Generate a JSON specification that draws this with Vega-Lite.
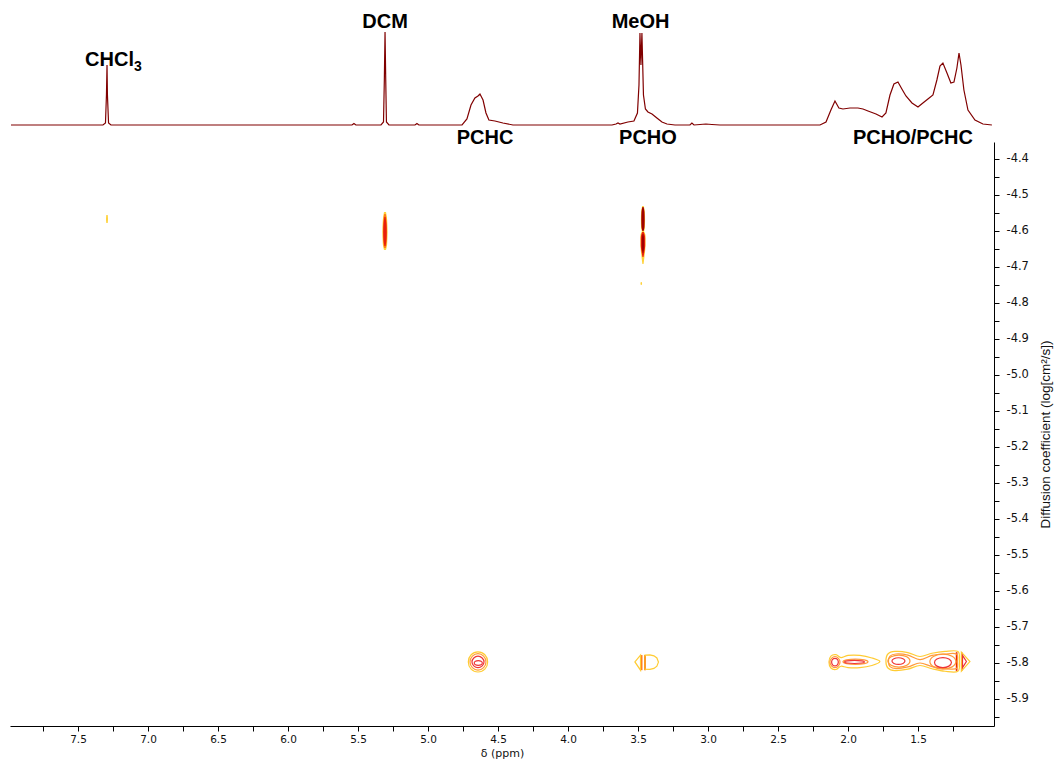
{
"$schema": "https://vega.github.io/schema/vega-lite/v6.json",
"background": "white",
"padding": {"left": 8, "top": 0, "right": 5, "bottom": 2},
"spacing": 12,
"bounds": "flush",
"config": {"view": {"stroke": null}, "axis": {"grid": false}},
"datasets": {
"spec": [
{"ppm":7.979,"I":0},{"ppm":7.322,"I":0},{"ppm":7.304,"I":2},{"ppm":7.297,"I":30},{"ppm":7.293,"I":60},{"ppm":7.290,"I":30},{"ppm":7.282,"I":2},{"ppm":7.265,"I":0},
{"ppm":5.543,"I":0},{"ppm":5.529,"I":1.5},{"ppm":5.515,"I":0},
{"ppm":5.336,"I":0},{"ppm":5.318,"I":3},{"ppm":5.312,"I":45},{"ppm":5.307,"I":93},{"ppm":5.302,"I":45},{"ppm":5.297,"I":3},{"ppm":5.279,"I":0},
{"ppm":5.093,"I":0},{"ppm":5.079,"I":1.5},{"ppm":5.065,"I":0},
{"ppm":4.757,"I":0},{"ppm":4.722,"I":6},{"ppm":4.693,"I":20},{"ppm":4.665,"I":27},{"ppm":4.643,"I":29},{"ppm":4.629,"I":31},{"ppm":4.607,"I":25},{"ppm":4.586,"I":12},{"ppm":4.565,"I":5},{"ppm":4.522,"I":4},{"ppm":4.465,"I":2},{"ppm":4.393,"I":0},
{"ppm":3.686,"I":0},{"ppm":3.657,"I":1},{"ppm":3.643,"I":2},{"ppm":3.629,"I":1},{"ppm":3.572,"I":3},{"ppm":3.529,"I":4},{"ppm":3.504,"I":12},{"ppm":3.493,"I":40},{"ppm":3.486,"I":92},{"ppm":3.479,"I":60},{"ppm":3.472,"I":92},{"ppm":3.461,"I":30},{"ppm":3.447,"I":16},{"ppm":3.429,"I":13},{"ppm":3.400,"I":11},{"ppm":3.365,"I":7},{"ppm":3.329,"I":3},{"ppm":3.293,"I":1},{"ppm":3.236,"I":0},
{"ppm":3.129,"I":0},{"ppm":3.115,"I":2},{"ppm":3.100,"I":0},{"ppm":3.057,"I":0.5},{"ppm":3.015,"I":1},{"ppm":2.972,"I":0.5},{"ppm":2.915,"I":0},
{"ppm":2.200,"I":0},{"ppm":2.157,"I":3},{"ppm":2.122,"I":15},{"ppm":2.093,"I":24},{"ppm":2.065,"I":17},{"ppm":2.036,"I":16},{"ppm":1.986,"I":17},{"ppm":1.929,"I":17},{"ppm":1.893,"I":16},{"ppm":1.857,"I":14},{"ppm":1.800,"I":11},{"ppm":1.757,"I":8},{"ppm":1.729,"I":12},{"ppm":1.700,"I":30},{"ppm":1.672,"I":41},{"ppm":1.643,"I":43},{"ppm":1.615,"I":36},{"ppm":1.586,"I":29},{"ppm":1.543,"I":22},{"ppm":1.500,"I":18},{"ppm":1.465,"I":22},{"ppm":1.429,"I":26},{"ppm":1.393,"I":30},{"ppm":1.365,"I":45},{"ppm":1.343,"I":59},{"ppm":1.322,"I":62},{"ppm":1.293,"I":52},{"ppm":1.265,"I":42},{"ppm":1.243,"I":43},{"ppm":1.222,"I":57},{"ppm":1.207,"I":72},{"ppm":1.193,"I":60},{"ppm":1.172,"I":35},{"ppm":1.143,"I":15},{"ppm":1.093,"I":5},{"ppm":1.036,"I":1},{"ppm":0.972,"I":0}
],
"lbl": [
{"t":"CHCl","k":"main","ppm":7.275,"I":65},{"t":"3","k":"sub","ppm":7.072,"I":58},{"t":"DCM","k":"main","ppm":5.307,"I":103},{"t":"MeOH","k":"main","ppm":3.482,"I":103},{"t":"PCHC","k":"main","ppm":4.593,"I":-13},{"t":"PCHO","k":"main","ppm":3.429,"I":-13},{"t":"PCHO/PCHC","k":"main","ppm":1.536,"I":-13}
],
"streak": [
{"s":"DCM","lv":"y","D":-4.5475,"ppm":5.300,"ppm2":5.3145},{"s":"DCM","lv":"y","D":-4.5697,"ppm":5.2917,"ppm2":5.3231},{"s":"DCM","lv":"y","D":-4.603,"ppm":5.2888,"ppm2":5.326},{"s":"DCM","lv":"y","D":-4.6364,"ppm":5.2917,"ppm2":5.3231},{"s":"DCM","lv":"y","D":-4.653,"ppm":5.300,"ppm2":5.3145},
{"s":"DCM","lv":"o","D":-4.553,"ppm":5.3017,"ppm2":5.3131},{"s":"DCM","lv":"o","D":-4.5753,"ppm":5.2945,"ppm2":5.3203},{"s":"DCM","lv":"o","D":-4.603,"ppm":5.2924,"ppm2":5.3224},{"s":"DCM","lv":"o","D":-4.6308,"ppm":5.2945,"ppm2":5.3203},{"s":"DCM","lv":"o","D":-4.6475,"ppm":5.3017,"ppm2":5.3131},
{"s":"DCM","lv":"r","D":-4.5614,"ppm":5.3031,"ppm2":5.3117},{"s":"DCM","lv":"r","D":-4.5808,"ppm":5.2974,"ppm2":5.3174},{"s":"DCM","lv":"r","D":-4.603,"ppm":5.2953,"ppm2":5.3195},{"s":"DCM","lv":"r","D":-4.6253,"ppm":5.2974,"ppm2":5.3174},{"s":"DCM","lv":"r","D":-4.6419,"ppm":5.3031,"ppm2":5.3117},
{"s":"MU","lv":"y","D":-4.5308,"ppm":3.4588,"ppm2":3.4702},{"s":"MU","lv":"y","D":-4.5475,"ppm":3.4509,"ppm2":3.4781},{"s":"MU","lv":"y","D":-4.5697,"ppm":3.4495,"ppm2":3.4795},{"s":"MU","lv":"y","D":-4.5919,"ppm":3.4509,"ppm2":3.4781},{"s":"MU","lv":"y","D":-4.603,"ppm":3.4588,"ppm2":3.4702},
{"s":"MU","lv":"d","D":-4.5336,"ppm":3.4602,"ppm2":3.4688},{"s":"MU","lv":"d","D":-4.5475,"ppm":3.4538,"ppm2":3.4752},{"s":"MU","lv":"d","D":-4.5697,"ppm":3.4524,"ppm2":3.4766},{"s":"MU","lv":"d","D":-4.5892,"ppm":3.4538,"ppm2":3.4752},{"s":"MU","lv":"d","D":-4.6003,"ppm":3.4602,"ppm2":3.4688},
{"s":"ML","lv":"y","D":-4.6003,"ppm":3.4574,"ppm2":3.4716},{"s":"ML","lv":"y","D":-4.6142,"ppm":3.4459,"ppm2":3.4831},{"s":"ML","lv":"y","D":-4.6392,"ppm":3.4459,"ppm2":3.4831},{"s":"ML","lv":"y","D":-4.6669,"ppm":3.4524,"ppm2":3.4766},{"s":"ML","lv":"y","D":-4.6919,"ppm":3.4602,"ppm2":3.4688},
{"s":"ML","lv":"r","D":-4.603,"ppm":3.4588,"ppm2":3.4702},{"s":"ML","lv":"r","D":-4.6197,"ppm":3.4488,"ppm2":3.4802},{"s":"ML","lv":"r","D":-4.6419,"ppm":3.4488,"ppm2":3.4802},{"s":"ML","lv":"r","D":-4.6586,"ppm":3.4545,"ppm2":3.4745},{"s":"ML","lv":"r","D":-4.6725,"ppm":3.4609,"ppm2":3.4681},
{"s":"ML","lv":"d","D":-4.6086,"ppm":3.4616,"ppm2":3.4674},{"s":"ML","lv":"d","D":-4.6253,"ppm":3.4559,"ppm2":3.4731},{"s":"ML","lv":"d","D":-4.6447,"ppm":3.4559,"ppm2":3.4731},{"s":"ML","lv":"d","D":-4.6614,"ppm":3.4624,"ppm2":3.4666},
{"s":"CH","lv":"y","D":-4.5558,"ppm":7.2881,"ppm2":7.2981},{"s":"CH","lv":"y","D":-4.5669,"ppm":7.286,"ppm2":7.3002},{"s":"CH","lv":"y","D":-4.578,"ppm":7.2881,"ppm2":7.2981},
{"s":"MD","lv":"y","D":-4.7419,"ppm":3.4738,"ppm2":3.4796},{"s":"MD","lv":"y","D":-4.7461,"ppm":3.471,"ppm2":3.4824},{"s":"MD","lv":"y","D":-4.7503,"ppm":3.4738,"ppm2":3.4796},
{"s":"m1","lv":"o","D":-5.778,"ppm":3.468,"ppm2":3.482},{"s":"m1","lv":"o","D":-5.820,"ppm":3.468,"ppm2":3.482},
{"s":"m2","lv":"o","D":-5.778,"ppm":3.443,"ppm2":3.457},{"s":"m2","lv":"o","D":-5.820,"ppm":3.443,"ppm2":3.457},
{"s":"m2r","lv":"r","D":-5.782,"ppm":3.447,"ppm2":3.453},{"s":"m2r","lv":"r","D":-5.816,"ppm":3.447,"ppm2":3.453},
{"s":"g1","lv":"r","D":-5.770,"ppm":1.218,"ppm2":1.230},{"s":"g1","lv":"r","D":-5.822,"ppm":1.218,"ppm2":1.230},
{"s":"g2","lv":"r","D":-5.770,"ppm":1.183,"ppm2":1.192},{"s":"g2","lv":"r","D":-5.822,"ppm":1.183,"ppm2":1.192}
],
"poly": [
{"c":"p1","lv":"y","i":0,"ppm":3.522,"D":-5.797},{"c":"p1","lv":"y","i":1,"ppm":3.482,"D":-5.778},{"c":"p1","lv":"y","i":2,"ppm":3.482,"D":-5.820},
{"c":"p2","lv":"y","i":0,"ppm":3.450,"D":-5.778},{"c":"p2","lv":"y","i":1,"ppm":3.415,"D":-5.7775},{"c":"p2","lv":"y","i":2,"ppm":3.386,"D":-5.780},{"c":"p2","lv":"y","i":3,"ppm":3.365,"D":-5.786},{"c":"p2","lv":"y","i":4,"ppm":3.354,"D":-5.7975},{"c":"p2","lv":"y","i":5,"ppm":3.365,"D":-5.809},{"c":"p2","lv":"y","i":6,"ppm":3.386,"D":-5.815},{"c":"p2","lv":"y","i":7,"ppm":3.415,"D":-5.8175},{"c":"p2","lv":"y","i":8,"ppm":3.450,"D":-5.817},
{"c":"p3","lv":"y","i":0,"ppm":1.190,"D":-5.770},{"c":"p3","lv":"y","i":1,"ppm":1.129,"D":-5.796},{"c":"p3","lv":"y","i":2,"ppm":1.190,"D":-5.8225},
{"c":"p4","lv":"r","i":0,"ppm":1.182,"D":-5.779},{"c":"p4","lv":"r","i":1,"ppm":1.154,"D":-5.796},{"c":"p4","lv":"r","i":2,"ppm":1.182,"D":-5.813}
],
"cont": [
{"c":"c1","lv":"y","i":0,"ppm":4.712,"D":-5.797},{"c":"c1","lv":"y","i":1,"ppm":4.692,"D":-5.777},{"c":"c1","lv":"y","i":2,"ppm":4.643,"D":-5.769},{"c":"c1","lv":"y","i":3,"ppm":4.594,"D":-5.777},{"c":"c1","lv":"y","i":4,"ppm":4.574,"D":-5.797},{"c":"c1","lv":"y","i":5,"ppm":4.594,"D":-5.817},{"c":"c1","lv":"y","i":6,"ppm":4.643,"D":-5.825},{"c":"c1","lv":"y","i":7,"ppm":4.692,"D":-5.817},
{"c":"c2","lv":"o","i":0,"ppm":4.700,"D":-5.797},{"c":"c2","lv":"o","i":1,"ppm":4.683,"D":-5.781},{"c":"c2","lv":"o","i":2,"ppm":4.643,"D":-5.774},{"c":"c2","lv":"o","i":3,"ppm":4.603,"D":-5.781},{"c":"c2","lv":"o","i":4,"ppm":4.586,"D":-5.797},{"c":"c2","lv":"o","i":5,"ppm":4.603,"D":-5.813},{"c":"c2","lv":"o","i":6,"ppm":4.643,"D":-5.820},{"c":"c2","lv":"o","i":7,"ppm":4.683,"D":-5.813},
{"c":"c3","lv":"r","i":0,"ppm":4.686,"D":-5.797},{"c":"c3","lv":"r","i":1,"ppm":4.673,"D":-5.786},{"c":"c3","lv":"r","i":2,"ppm":4.643,"D":-5.781},{"c":"c3","lv":"r","i":3,"ppm":4.613,"D":-5.786},{"c":"c3","lv":"r","i":4,"ppm":4.600,"D":-5.797},{"c":"c3","lv":"r","i":5,"ppm":4.613,"D":-5.808},{"c":"c3","lv":"r","i":6,"ppm":4.643,"D":-5.813},{"c":"c3","lv":"r","i":7,"ppm":4.673,"D":-5.808},
{"c":"c4","lv":"r","i":0,"ppm":4.670,"D":-5.800},{"c":"c4","lv":"r","i":1,"ppm":4.661,"D":-5.795},{"c":"c4","lv":"r","i":2,"ppm":4.641,"D":-5.7935},{"c":"c4","lv":"r","i":3,"ppm":4.621,"D":-5.795},{"c":"c4","lv":"r","i":4,"ppm":4.612,"D":-5.800},{"c":"c4","lv":"r","i":5,"ppm":4.621,"D":-5.805},{"c":"c4","lv":"r","i":6,"ppm":4.641,"D":-5.8065},{"c":"c4","lv":"r","i":7,"ppm":4.661,"D":-5.805},
{"c":"c5","lv":"y","i":0,"ppm":2.136,"D":-5.7975},{"c":"c5","lv":"y","i":1,"ppm":2.122,"D":-5.781},{"c":"c5","lv":"y","i":2,"ppm":2.086,"D":-5.777},{"c":"c5","lv":"y","i":3,"ppm":2.050,"D":-5.785},{"c":"c5","lv":"y","i":4,"ppm":2.000,"D":-5.779},{"c":"c5","lv":"y","i":5,"ppm":1.915,"D":-5.779},{"c":"c5","lv":"y","i":6,"ppm":1.829,"D":-5.786},{"c":"c5","lv":"y","i":7,"ppm":1.772,"D":-5.796},{"c":"c5","lv":"y","i":8,"ppm":1.829,"D":-5.807},{"c":"c5","lv":"y","i":9,"ppm":1.915,"D":-5.813},{"c":"c5","lv":"y","i":10,"ppm":2.000,"D":-5.813},{"c":"c5","lv":"y","i":11,"ppm":2.050,"D":-5.809},{"c":"c5","lv":"y","i":12,"ppm":2.086,"D":-5.818},{"c":"c5","lv":"y","i":13,"ppm":2.122,"D":-5.814},
{"c":"c6","lv":"o","i":0,"ppm":2.129,"D":-5.7975},{"c":"c6","lv":"o","i":1,"ppm":2.118,"D":-5.787},{"c":"c6","lv":"o","i":2,"ppm":2.093,"D":-5.782},{"c":"c6","lv":"o","i":3,"ppm":2.068,"D":-5.787},{"c":"c6","lv":"o","i":4,"ppm":2.057,"D":-5.7975},{"c":"c6","lv":"o","i":5,"ppm":2.068,"D":-5.808},{"c":"c6","lv":"o","i":6,"ppm":2.093,"D":-5.813},{"c":"c6","lv":"o","i":7,"ppm":2.118,"D":-5.808},
{"c":"c7","lv":"r","i":0,"ppm":2.117,"D":-5.7975},{"c":"c7","lv":"r","i":1,"ppm":2.110,"D":-5.790},{"c":"c7","lv":"r","i":2,"ppm":2.093,"D":-5.787},{"c":"c7","lv":"r","i":3,"ppm":2.076,"D":-5.790},{"c":"c7","lv":"r","i":4,"ppm":2.069,"D":-5.7975},{"c":"c7","lv":"r","i":5,"ppm":2.076,"D":-5.805},{"c":"c7","lv":"r","i":6,"ppm":2.093,"D":-5.808},{"c":"c7","lv":"r","i":7,"ppm":2.110,"D":-5.805},
{"c":"c8","lv":"o","i":0,"ppm":2.036,"D":-5.7967},{"c":"c8","lv":"o","i":1,"ppm":2.010,"D":-5.7914},{"c":"c8","lv":"o","i":2,"ppm":1.947,"D":-5.7892},{"c":"c8","lv":"o","i":3,"ppm":1.884,"D":-5.7914},{"c":"c8","lv":"o","i":4,"ppm":1.857,"D":-5.7967},{"c":"c8","lv":"o","i":5,"ppm":1.884,"D":-5.802},{"c":"c8","lv":"o","i":6,"ppm":1.947,"D":-5.8042},{"c":"c8","lv":"o","i":7,"ppm":2.010,"D":-5.802},
{"c":"c9","lv":"r","i":0,"ppm":2.025,"D":-5.797},{"c":"c9","lv":"r","i":1,"ppm":2.004,"D":-5.7939},{"c":"c9","lv":"r","i":2,"ppm":1.954,"D":-5.7926},{"c":"c9","lv":"r","i":3,"ppm":1.903,"D":-5.7939},{"c":"c9","lv":"r","i":4,"ppm":1.882,"D":-5.797},{"c":"c9","lv":"r","i":5,"ppm":1.903,"D":-5.8001},{"c":"c9","lv":"r","i":6,"ppm":1.954,"D":-5.8014},{"c":"c9","lv":"r","i":7,"ppm":2.004,"D":-5.8001},
{"c":"c10","lv":"y","i":0,"ppm":1.729,"D":-5.795},{"c":"c10","lv":"y","i":1,"ppm":1.715,"D":-5.775},{"c":"c10","lv":"y","i":2,"ppm":1.665,"D":-5.768},{"c":"c10","lv":"y","i":3,"ppm":1.572,"D":-5.771},{"c":"c10","lv":"y","i":4,"ppm":1.486,"D":-5.782},{"c":"c10","lv":"y","i":5,"ppm":1.400,"D":-5.773},{"c":"c10","lv":"y","i":6,"ppm":1.307,"D":-5.768},{"c":"c10","lv":"y","i":7,"ppm":1.215,"D":-5.768},{"c":"c10","lv":"y","i":8,"ppm":1.204,"D":-5.795},{"c":"c10","lv":"y","i":9,"ppm":1.215,"D":-5.823},{"c":"c10","lv":"y","i":10,"ppm":1.307,"D":-5.823},{"c":"c10","lv":"y","i":11,"ppm":1.400,"D":-5.816},{"c":"c10","lv":"y","i":12,"ppm":1.486,"D":-5.807},{"c":"c10","lv":"y","i":13,"ppm":1.572,"D":-5.817},{"c":"c10","lv":"y","i":14,"ppm":1.665,"D":-5.821},{"c":"c10","lv":"y","i":15,"ppm":1.715,"D":-5.814},
{"c":"c11","lv":"o","i":0,"ppm":1.711,"D":-5.795},{"c":"c11","lv":"o","i":1,"ppm":1.700,"D":-5.781},{"c":"c11","lv":"o","i":2,"ppm":1.657,"D":-5.775},{"c":"c11","lv":"o","i":3,"ppm":1.572,"D":-5.778},{"c":"c11","lv":"o","i":4,"ppm":1.486,"D":-5.7905},{"c":"c11","lv":"o","i":5,"ppm":1.400,"D":-5.779},{"c":"c11","lv":"o","i":6,"ppm":1.307,"D":-5.775},{"c":"c11","lv":"o","i":7,"ppm":1.225,"D":-5.775},{"c":"c11","lv":"o","i":8,"ppm":1.218,"D":-5.795},{"c":"c11","lv":"o","i":9,"ppm":1.225,"D":-5.8155},{"c":"c11","lv":"o","i":10,"ppm":1.307,"D":-5.8155},{"c":"c11","lv":"o","i":11,"ppm":1.400,"D":-5.810},{"c":"c11","lv":"o","i":12,"ppm":1.486,"D":-5.800},{"c":"c11","lv":"o","i":13,"ppm":1.572,"D":-5.811},{"c":"c11","lv":"o","i":14,"ppm":1.657,"D":-5.8155},{"c":"c11","lv":"o","i":15,"ppm":1.700,"D":-5.810},
{"c":"c12","lv":"o","i":0,"ppm":1.715,"D":-5.7947},{"c":"c12","lv":"o","i":1,"ppm":1.692,"D":-5.7829},{"c":"c12","lv":"o","i":2,"ppm":1.636,"D":-5.778},{"c":"c12","lv":"o","i":3,"ppm":1.580,"D":-5.7829},{"c":"c12","lv":"o","i":4,"ppm":1.557,"D":-5.7947},{"c":"c12","lv":"o","i":5,"ppm":1.580,"D":-5.8065},{"c":"c12","lv":"o","i":6,"ppm":1.636,"D":-5.8114},{"c":"c12","lv":"o","i":7,"ppm":1.692,"D":-5.8065},
{"c":"c13","lv":"r","i":0,"ppm":1.686,"D":-5.7947},{"c":"c13","lv":"r","i":1,"ppm":1.672,"D":-5.7882},{"c":"c13","lv":"r","i":2,"ppm":1.640,"D":-5.7855},{"c":"c13","lv":"r","i":3,"ppm":1.607,"D":-5.7882},{"c":"c13","lv":"r","i":4,"ppm":1.593,"D":-5.7947},{"c":"c13","lv":"r","i":5,"ppm":1.607,"D":-5.8012},{"c":"c13","lv":"r","i":6,"ppm":1.640,"D":-5.8039},{"c":"c13","lv":"r","i":7,"ppm":1.672,"D":-5.8012},
{"c":"c14","lv":"o","i":0,"ppm":1.415,"D":-5.7961},{"c":"c14","lv":"o","i":1,"ppm":1.387,"D":-5.7814},{"c":"c14","lv":"o","i":2,"ppm":1.322,"D":-5.7753},{"c":"c14","lv":"o","i":3,"ppm":1.256,"D":-5.7814},{"c":"c14","lv":"o","i":4,"ppm":1.229,"D":-5.7961},{"c":"c14","lv":"o","i":5,"ppm":1.256,"D":-5.8108},{"c":"c14","lv":"o","i":6,"ppm":1.322,"D":-5.8169},{"c":"c14","lv":"o","i":7,"ppm":1.387,"D":-5.8108},
{"c":"c15","lv":"r","i":0,"ppm":1.382,"D":-5.7989},{"c":"c15","lv":"r","i":1,"ppm":1.365,"D":-5.7891},{"c":"c15","lv":"r","i":2,"ppm":1.322,"D":-5.785},{"c":"c15","lv":"r","i":3,"ppm":1.279,"D":-5.7891},{"c":"c15","lv":"r","i":4,"ppm":1.261,"D":-5.7989},{"c":"c15","lv":"r","i":5,"ppm":1.279,"D":-5.8087},{"c":"c15","lv":"r","i":6,"ppm":1.322,"D":-5.8128},{"c":"c15","lv":"r","i":7,"ppm":1.365,"D":-5.8087}
]
},
"vconcat": [
{
"width": 984, "height": 130,
"layer": [
{"data": {"name": "spec"},
 "mark": {"type": "line", "color": "#800000", "strokeWidth": 1.2},
 "encoding": {
  "x": {"field": "ppm", "type": "quantitative", "scale": {"domain": [0.957, 7.986], "reverse": true, "nice": false, "zero": false}, "axis": null},
  "y": {"field": "I", "type": "quantitative", "scale": {"domain": [-5, 125], "nice": false, "zero": false}, "axis": null}
 }},
{"data": {"name": "lbl"}, "transform": [{"filter": "datum.k == 'main'"}],
 "mark": {"type": "text", "font": "Liberation Sans", "fontSize": 20, "fontWeight": "bold", "color": "#000000", "baseline": "middle", "align": "center"},
 "encoding": {
  "x": {"field": "ppm", "type": "quantitative", "scale": {"domain": [0.957, 7.986], "reverse": true, "nice": false, "zero": false}, "axis": null},
  "y": {"field": "I", "type": "quantitative", "scale": {"domain": [-5, 125], "nice": false, "zero": false}, "axis": null},
  "text": {"field": "t", "type": "nominal"}
 }},
{"data": {"name": "lbl"}, "transform": [{"filter": "datum.k == 'sub'"}],
 "mark": {"type": "text", "font": "Liberation Sans", "fontSize": 14, "fontWeight": "bold", "color": "#000000", "baseline": "middle", "align": "center"},
 "encoding": {
  "x": {"field": "ppm", "type": "quantitative", "scale": {"domain": [0.957, 7.986], "reverse": true, "nice": false, "zero": false}, "axis": null},
  "y": {"field": "I", "type": "quantitative", "scale": {"domain": [-5, 125], "nice": false, "zero": false}, "axis": null},
  "text": {"field": "t", "type": "nominal"}
 }}
]
},
{
"width": 984, "height": 584,
"encoding": {
 "x": {"field": "ppm", "type": "quantitative",
  "scale": {"domain": [0.957, 7.986], "reverse": true, "nice": false, "zero": false},
  "axis": {"title": "δ (ppm)", "values": [7.75,7.5,7.25,7,6.75,6.5,6.25,6,5.75,5.5,5.25,5,4.75,4.5,4.25,4,3.75,3.5,3.25,3,2.75,2.5,2.25,2,1.75,1.5,1.25],
   "labelExpr": "abs(datum.value*2-round(datum.value*2))<0.01 ? format(datum.value,'.1f') : ''",
   "labelOverlap": false, "labelFlush": false, "domainColor": "#000000", "tickColor": "#000000", "tickSize": 5, "labelColor": "#111111",
   "labelFont": "DejaVu Sans", "labelFontSize": 10.5, "labelPadding": 3,
   "titleFont": "DejaVu Sans", "titleFontSize": 11, "titleFontWeight": "normal", "titleColor": "#111111", "titlePadding": 3}},
 "y": {"field": "D", "type": "quantitative",
  "scale": {"domain": [-5.975, -4.353], "nice": false, "zero": false},
  "axis": {"orient": "right", "title": "Diffusion coefficient (log[cm²/s])",
   "values": [-4.4,-4.45,-4.5,-4.55,-4.6,-4.65,-4.7,-4.75,-4.8,-4.85,-4.9,-4.95,-5,-5.05,-5.1,-5.15,-5.2,-5.25,-5.3,-5.35,-5.4,-5.45,-5.5,-5.55,-5.6,-5.65,-5.7,-5.75,-5.8,-5.85,-5.9,-5.95],
   "labelExpr": "abs(datum.value*10-round(datum.value*10))<0.01 ? replace(format(datum.value,'.1f'),'−','-') : ''",
   "labelOverlap": false, "labelFlush": false, "domainColor": "#000000", "tickColor": "#000000", "tickSize": 5, "labelColor": "#111111",
   "labelFont": "DejaVu Sans", "labelFontSize": 11.5, "labelPadding": 7,
   "titleFont": "Liberation Sans", "titleFontSize": 13.5, "titleFontWeight": "normal", "titleColor": "#111111", "titlePadding": 10,
   "titleAngle": 270, "titleBaseline": "top"}}
},
"layer": [
{"data": {"name": "streak"}, "transform": [{"filter": "datum.lv == 'y'"}],
 "mark": {"type": "area", "orient": "horizontal", "color": "#FFD23A", "interpolate": "monotone"},
 "encoding": {"x2": {"field": "ppm2"}, "detail": {"field": "s", "type": "nominal"}}},
{"data": {"name": "streak"}, "transform": [{"filter": "datum.lv == 'o'"}],
 "mark": {"type": "area", "orient": "horizontal", "color": "#FF7A1A", "interpolate": "monotone"},
 "encoding": {"x2": {"field": "ppm2"}, "detail": {"field": "s", "type": "nominal"}}},
{"data": {"name": "streak"}, "transform": [{"filter": "datum.lv == 'r'"}],
 "mark": {"type": "area", "orient": "horizontal", "color": "#E8200C", "interpolate": "monotone"},
 "encoding": {"x2": {"field": "ppm2"}, "detail": {"field": "s", "type": "nominal"}}},
{"data": {"name": "streak"}, "transform": [{"filter": "datum.lv == 'd'"}],
 "mark": {"type": "area", "orient": "horizontal", "color": "#A00000", "interpolate": "monotone"},
 "encoding": {"x2": {"field": "ppm2"}, "detail": {"field": "s", "type": "nominal"}}},
{"data": {"name": "cont"},
 "mark": {"type": "line", "interpolate": "cardinal-closed", "strokeWidth": 1.2},
 "encoding": {"detail": {"field": "c", "type": "nominal"}, "order": {"field": "i", "type": "quantitative"},
  "color": {"field": "lv", "type": "nominal", "scale": {"domain": ["y","o","r","d"], "range": ["#FFCC33","#FF9A3A","#EE3535","#A30000"]}, "legend": null}}},
{"data": {"name": "poly"},
 "mark": {"type": "line", "interpolate": "linear-closed", "strokeWidth": 1.2},
 "encoding": {"detail": {"field": "c", "type": "nominal"}, "order": {"field": "i", "type": "quantitative"},
  "color": {"field": "lv", "type": "nominal", "scale": {"domain": ["y","o","r","d"], "range": ["#FFCC33","#FF9A3A","#EE3535","#A30000"]}, "legend": null}}}
]
}
]
}
